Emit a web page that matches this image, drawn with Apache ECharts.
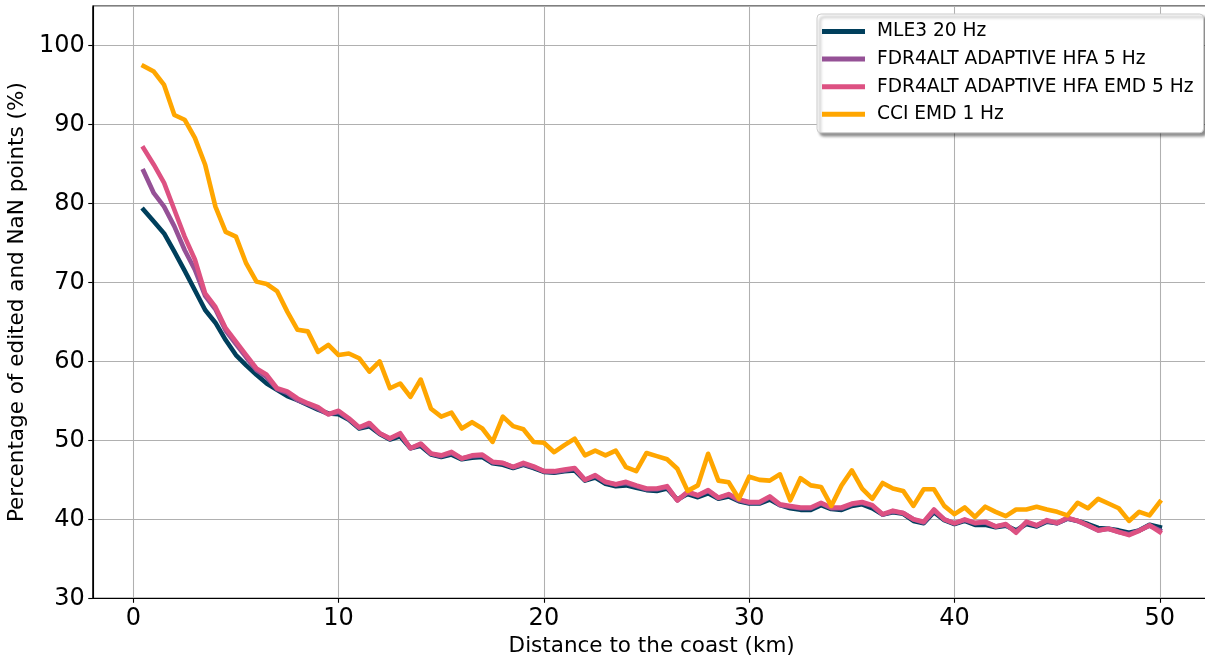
<!DOCTYPE html>
<html>
<head>
<meta charset="utf-8">
<script src="https://cdn.jsdelivr.net/npm/echarts@6/dist/echarts.min.js"></script>
<style>
html,body{margin:0;padding:0;background:#fff;}
#chart{width:1205px;height:662px;}
</style>
</head>
<body>
<div id="chart"></div>
<script>
const distanceKm = [
  0.5,1,1.5,2,2.5,3,3.5,4,4.5,5,
  5.5,6,6.5,7,7.5,8,8.5,9,9.5,10,
  10.5,11,11.5,12,12.5,13,13.5,14,14.5,15,
  15.5,16,16.5,17,17.5,18,18.5,19,19.5,20,
  20.5,21,21.5,22,22.5,23,23.5,24,24.5,25,
  25.5,26,26.5,27,27.5,28,28.5,29,29.5,30,
  30.5,31,31.5,32,32.5,33,33.5,34,34.5,35,
  35.5,36,36.5,37,37.5,38,38.5,39,39.5,40,
  40.5,41,41.5,42,42.5,43,43.5,44,44.5,45,
  45.5,46,46.5,47,47.5,48,48.5,49,49.5,50
];

const mle3 = [
  79.2,77.7,76.2,73.9,71.5,69.0,66.5,64.9,62.7,60.8,
  59.5,58.3,57.2,56.4,55.6,55.1,54.5,53.9,53.4,53.3,
  52.6,51.5,51.8,50.8,50.1,50.5,49.0,49.3,48.2,47.9,
  48.2,47.6,47.8,47.9,47.1,46.9,46.5,46.9,46.5,46.0,
  45.9,46.1,46.2,44.9,45.3,44.5,44.2,44.3,44.0,43.7,
  43.6,43.9,42.5,43.2,42.8,43.3,42.6,42.9,42.3,42.0,
  42.0,42.5,41.8,41.4,41.2,41.2,41.8,41.3,41.2,41.7,
  41.9,41.4,40.6,40.9,40.7,39.8,39.5,40.9,39.9,39.4,
  39.8,39.3,39.3,39.0,39.2,38.6,39.4,39.1,39.7,39.5,
  40.1,39.8,39.4,38.9,38.8,38.6,38.3,38.6,39.3,39.0
];

const fdrHfa = [
  84.1,81.3,79.6,77.1,74.1,71.6,68.3,66.6,63.9,62.2,
  60.5,58.9,58.0,56.5,56.0,55.1,54.6,54.0,53.3,53.6,
  52.7,51.6,52.0,50.9,50.2,50.8,49.0,49.5,48.3,48.0,
  48.4,47.7,48.0,48.1,47.2,47.1,46.6,47.0,46.6,46.1,
  46.0,46.2,46.4,45.0,45.5,44.7,44.4,44.6,44.2,43.8,
  43.8,44.1,42.4,43.4,43.0,43.6,42.7,43.1,42.4,42.1,
  42.1,42.8,41.8,41.6,41.4,41.4,42.0,41.4,41.4,41.9,
  42.1,41.7,40.6,41.0,40.8,40.0,39.6,41.1,40.0,39.5,
  39.9,39.5,39.6,39.1,39.3,38.4,39.6,39.2,39.8,39.5,
  40.1,39.8,39.2,38.6,38.8,38.4,38.1,38.6,39.2,38.6
];

const fdrHfaEmd = [
  87.0,84.9,82.6,79.2,75.8,72.9,68.6,66.9,64.2,62.5,
  60.8,59.1,58.3,56.6,56.2,55.3,54.7,54.2,53.3,53.75,
  52.8,51.65,52.2,50.9,50.25,50.9,49.0,49.6,48.35,48.1,
  48.55,47.7,48.1,48.2,47.3,47.15,46.65,47.15,46.7,46.1,
  46.1,46.3,46.5,45.0,45.6,44.75,44.45,44.75,44.3,43.9,
  43.9,44.2,42.4,43.5,43.05,43.7,42.75,43.2,42.5,42.2,
  42.2,42.9,41.9,41.7,41.5,41.5,42.1,41.5,41.5,42.0,
  42.2,41.8,40.65,41.1,40.8,40.0,39.7,41.25,40.0,39.5,
  40.0,39.55,39.7,39.1,39.4,38.3,39.7,39.25,39.9,39.55,
  40.2,39.8,39.25,38.6,38.8,38.4,38.0,38.55,39.25,38.4
];

const cciEmd = [
  97.4,96.7,95.0,91.2,90.6,88.3,84.9,79.6,76.4,75.8,
  72.4,70.1,69.8,68.9,66.3,64.0,63.8,61.2,62.1,60.8,
  61.0,60.4,58.7,60.0,56.6,57.2,55.5,57.7,54.0,53.0,
  53.5,51.5,52.3,51.5,49.8,53.0,51.8,51.4,49.8,49.7,
  48.5,49.4,50.2,48.1,48.7,48.1,48.7,46.6,46.1,48.4,
  48.0,47.6,46.4,43.6,44.3,48.3,44.9,44.7,42.6,45.4,
  45.0,44.9,45.7,42.4,45.2,44.3,44.1,41.7,44.3,46.2,
  43.9,42.6,44.6,43.9,43.6,41.7,43.8,43.8,41.7,40.65,
  41.5,40.3,41.6,40.95,40.4,41.25,41.25,41.6,41.25,40.95,
  40.5,42.1,41.4,42.6,42.0,41.4,39.8,40.95,40.5,42.2
];

const seriesNames = [
  'MLE3 20 Hz',
  'FDR4ALT ADAPTIVE HFA 5 Hz',
  'FDR4ALT ADAPTIVE HFA EMD 5 Hz',
  'CCI EMD 1 Hz'
];
const seriesColors = ['#003f5c', '#955196', '#dd5182', '#ffa600'];
const seriesValues = [mle3, fdrHfa, fdrHfaEmd, cciEmd];

const xAxisTitle = 'Distance to the coast (km)';
const yAxisTitle = 'Percentage of edited and NaN points (%)';

const FONT = '"DejaVu Sans", "Liberation Sans", sans-serif';

const chart = echarts.init(document.getElementById('chart'), null, {renderer: 'canvas'});

const series = seriesValues.map((vals, i) => ({
  name: seriesNames[i],
  type: 'line',
  data: vals.map((v, j) => [distanceKm[j], v]),
  symbol: 'none',
  showSymbol: false,
  smooth: false,
  animation: false,
  z: 2 + i,
  lineStyle: {color: seriesColors[i], width: 4.6, cap: 'square', join: 'round'},
  itemStyle: {color: seriesColors[i]},
  emphasis: {disabled: true}
}));

chart.setOption({
  animation: false,
  backgroundColor: '#ffffff',
  textStyle: {fontFamily: FONT},
  grid: {
    left: 92.75,
    right: -5.6,
    top: 6,
    bottom: 63.7,
    show: true,
    borderColor: '#000',
    borderWidth: 1.1,
    backgroundColor: '#fff',
    containLabel: false,
    outerBoundsMode: 'none'
  },
  legend: {
    data: seriesNames,
    orient: 'vertical',
    left: 817,
    top: 14,
    icon: 'rect',
    itemWidth: 43,
    itemHeight: 5,
    itemGap: 7.6,
    padding: [7.5, 10, 8.5, 5],
    backgroundColor: '#fff',
    borderColor: '#cccccc',
    borderWidth: 1,
    borderRadius: 4,
    shadowColor: 'rgba(0,0,0,0.45)',
    shadowBlur: 3,
    shadowOffsetX: 3,
    shadowOffsetY: 3,
    selectedMode: false,
    textStyle: {
      fontFamily: FONT,
      fontSize: 18.6,
      color: '#000',
      lineHeight: 20,
      padding: [0, 0, 0, 7]
    }
  },
  xAxis: {
    type: 'value',
    min: -1.975,
    max: 52.475,
    splitNumber: 5,
    name: xAxisTitle,
    nameLocation: 'middle',
    nameGap: 35,
    nameTextStyle: {fontFamily: FONT, fontSize: 21.5, color: '#000'},
    axisLine: {show: true, onZero: false, lineStyle: {color: '#000', width: 1.1}},
    axisTick: {show: true, inside: false, length: 4.5, lineStyle: {color: '#000', width: 1.1}},
    axisLabel: {
      show: true, margin: 8, fontFamily: FONT, fontSize: 24, color: '#000',
      showMinLabel: false, showMaxLabel: false
    },
    splitLine: {show: true, lineStyle: {color: '#b0b0b0', width: 1.05}}
  },
  yAxis: {
    type: 'value',
    min: 30,
    max: 105,
    interval: 10,
    name: yAxisTitle,
    nameLocation: 'middle',
    nameGap: 62,
    nameRotate: 90,
    nameTextStyle: {fontFamily: FONT, fontSize: 21.5, color: '#000'},
    axisLine: {show: true, onZero: false, lineStyle: {color: '#000', width: 1.1}},
    axisTick: {show: true, inside: false, length: 4.5, lineStyle: {color: '#000', width: 1.1}},
    axisLabel: {
      show: true, margin: 8, fontFamily: FONT, fontSize: 24, color: '#000',
      showMaxLabel: false
    },
    splitLine: {show: true, lineStyle: {color: '#b0b0b0', width: 1.05}}
  },
  series: series
});
</script>
</body>
</html>
